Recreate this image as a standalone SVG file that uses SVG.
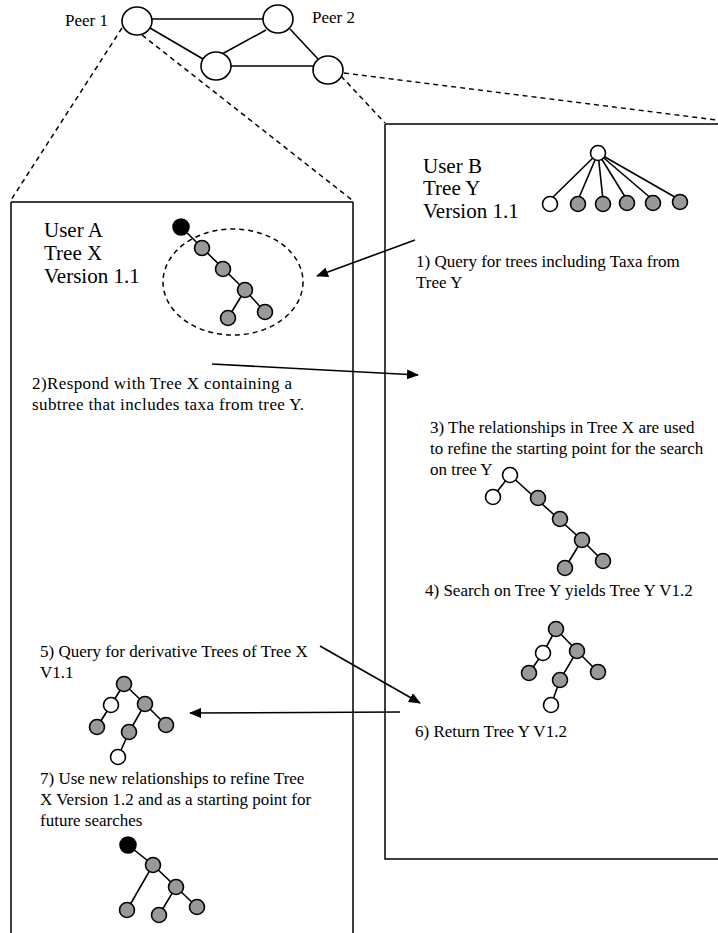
<svg xmlns="http://www.w3.org/2000/svg" width="718" height="933" viewBox="0 0 718 933">
<style>
text{font-family:"Liberation Serif","Times New Roman",serif;fill:#000}
.t{font-size:17px}
.h{font-size:21px}
.e{stroke:#000;stroke-width:1.6;fill:none}
.d{stroke:#000;stroke-width:1.5;fill:none;stroke-dasharray:5,4}
.box{stroke:#000;stroke-width:1.5;fill:none}
.g{fill:#999;stroke:#000;stroke-width:1.6}
.w{fill:#fff;stroke:#000;stroke-width:1.6}
.b{fill:#000;stroke:#000;stroke-width:1.6}
.a{stroke:#000;stroke-width:1.6;fill:none;marker-end:url(#ah)}
</style>
<defs>
<marker id="ah" viewBox="0 0 12 10" refX="11" refY="5" markerWidth="12" markerHeight="10" markerUnits="userSpaceOnUse" orient="auto">
<path d="M0,0 L12,5 L0,10 z" fill="#000"/>
</marker>
</defs>
<rect width="718" height="933" fill="#fff"/>

<g id="boxes">
<path class="box" d="M11,202 H353 M11,202 V933 M353,202 V933"/>
<path class="box" d="M385,124 H718 M385,124 V859 H718"/>
</g>

<g id="zoomlines">
<line class="d" x1="122" y1="28" x2="11" y2="200"/>
<line class="d" x1="142" y1="35" x2="352" y2="200"/>
<line class="d" x1="341" y1="76" x2="385" y2="123"/>
<line class="d" x1="344" y1="73" x2="717" y2="120"/>
</g>

<g id="network">
<line class="e" x1="152" y1="19" x2="263" y2="19"/>
<line class="e" x1="150" y1="28" x2="203" y2="59"/>
<line class="e" x1="222" y1="54" x2="266" y2="30"/>
<line class="e" x1="231" y1="66" x2="313" y2="66"/>
<line class="e" x1="290" y1="29" x2="318" y2="59"/>
<g id="peer1"><ellipse class="w" cx="137" cy="21" rx="15" ry="14"/><text class="t" x="65" y="26">Peer 1</text></g>
<g id="peer2"><ellipse class="w" cx="278" cy="19" rx="15" ry="14"/><text class="t" x="312" y="23">Peer 2</text></g>
<g id="peer3"><ellipse class="w" cx="216" cy="66" rx="15" ry="14"/></g>
<g id="peer4"><ellipse class="w" cx="328" cy="70" rx="15" ry="14"/></g>
</g>

<g id="userA">
<text class="h" x="44" y="237">User A</text>
<text class="h" x="44" y="260">Tree X</text>
<text class="h" x="44" y="283">Version 1.1</text>
<ellipse class="d" cx="233" cy="282" rx="70" ry="53"/>
<path class="e" d="M181,227 L245,290 M245,290 L228,318 M245,290 L265,312"/>
<circle class="b" cx="181" cy="227" r="8"/>
<circle class="g" cx="202" cy="248" r="7.5"/>
<circle class="g" cx="223" cy="269" r="7.5"/>
<circle class="g" cx="245" cy="290" r="7.5"/>
<circle class="g" cx="228" cy="318" r="7.5"/>
<circle class="g" cx="265" cy="312" r="7.5"/>
</g>

<g id="userB">
<text class="h" x="423" y="173">User B</text>
<text class="h" x="423" y="195">Tree Y</text>
<text class="h" x="423" y="218">Version 1.1</text>
<path class="e" d="M598,153 L550,200 M598,153 L578,200 M598,153 L603,200 M598,153 L627,200 M598,153 L653,200 M598,153 L680,200"/>
<circle class="w" cx="598" cy="153" r="7.5"/>
<circle class="w" cx="550" cy="204" r="7.5"/>
<circle class="g" cx="578" cy="204" r="7.5"/>
<circle class="g" cx="603" cy="204" r="7.5"/>
<circle class="g" cx="627" cy="203" r="7.5"/>
<circle class="g" cx="653" cy="203" r="7.5"/>
<circle class="g" cx="680" cy="202" r="7.5"/>
</g>

<g id="step1">
<text class="t" x="416" y="267">1) Query for trees including Taxa from</text>
<text class="t" x="416" y="288">Tree Y</text>
</g>

<g id="step2">
<text class="t" x="32" y="389" textLength="260" lengthAdjust="spacing">2)Respond with Tree X containing a</text>
<text class="t" x="32" y="410" textLength="272" lengthAdjust="spacing">subtree that includes taxa from tree Y.</text>
</g>

<g id="step3">
<text class="t" x="430" y="433">3) The relationships in Tree X are used</text>
<text class="t" x="430" y="454">to refine the starting point for the search</text>
<text class="t" x="430" y="475">on tree Y</text>
<path class="e" d="M510,475 L493,497 M510,475 L582,540 M582,540 L565,568 M582,540 L603,561"/>
<circle class="w" cx="510" cy="475" r="7.5"/>
<circle class="w" cx="493" cy="497" r="7.5"/>
<circle class="g" cx="538" cy="498" r="7.5"/>
<circle class="g" cx="560" cy="519" r="7.5"/>
<circle class="g" cx="582" cy="540" r="7.5"/>
<circle class="g" cx="565" cy="568" r="7.5"/>
<circle class="g" cx="603" cy="561" r="7.5"/>
</g>

<g id="step4">
<text class="t" x="425" y="596">4) Search on Tree Y yields Tree Y V1.2</text>
<path class="e" d="M556,629 L543,653 L529,673 M556,629 L577,651 L598,672 M577,651 L560,680 L551,705"/>
<circle class="g" cx="556" cy="629" r="7.5"/>
<circle class="w" cx="543" cy="653" r="7.5"/>
<circle class="g" cx="577" cy="651" r="7.5"/>
<circle class="g" cx="529" cy="673" r="7.5"/>
<circle class="g" cx="560" cy="680" r="7.5"/>
<circle class="g" cx="598" cy="672" r="7.5"/>
<circle class="w" cx="551" cy="705" r="7.5"/>
</g>

<g id="step5">
<text class="t" x="40" y="657">5) Query for derivative Trees of Tree X</text>
<text class="t" x="40" y="678">V1.1</text>
<path class="e" d="M124,684 L111,705 L97,727 M124,684 L145,704 L166,725 M145,704 L129,732 L118,757"/>
<circle class="g" cx="124" cy="684" r="7.5"/>
<circle class="w" cx="111" cy="705" r="7.5"/>
<circle class="g" cx="145" cy="704" r="7.5"/>
<circle class="g" cx="97" cy="727" r="7.5"/>
<circle class="g" cx="129" cy="732" r="7.5"/>
<circle class="g" cx="166" cy="725" r="7.5"/>
<circle class="w" cx="118" cy="757" r="7.5"/>
</g>

<g id="step6">
<text class="t" x="415" y="737">6) Return Tree Y V1.2</text>
</g>

<g id="step7">
<text class="t" x="40" y="784">7) Use new relationships to refine Tree</text>
<text class="t" x="40" y="805">X Version 1.2 and as a starting point for</text>
<text class="t" x="40" y="826">future searches</text>
<path class="e" d="M128,845 L153,865 L127,910 M153,865 L176,887 L159,915 M176,887 L197,907"/>
<circle class="b" cx="128" cy="845" r="8"/>
<circle class="g" cx="153" cy="865" r="7.5"/>
<circle class="g" cx="176" cy="887" r="7.5"/>
<circle class="g" cx="127" cy="910" r="7.5"/>
<circle class="g" cx="159" cy="915" r="7.5"/>
<circle class="g" cx="197" cy="907" r="7.5"/>
</g>

<g id="connectors">
<line class="a" x1="415" y1="240" x2="317" y2="276"/>
<line class="a" x1="212" y1="364" x2="418" y2="375"/>
<line class="a" x1="320" y1="646" x2="420" y2="703"/>
<line class="a" x1="400" y1="712" x2="190" y2="713"/>
</g>
</svg>
